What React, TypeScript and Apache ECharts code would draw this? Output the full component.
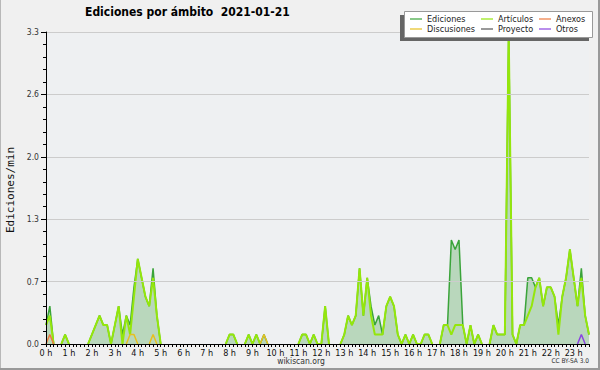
import { useEffect, useRef } from "react";
import * as echarts from "echarts";

const F = "'DejaVu Sans Condensed', 'DejaVu Sans', sans-serif";

const hourLabels = [
  "0 h", "1 h", "2 h", "3 h", "4 h", "5 h", "6 h", "7 h", "8 h", "9 h", "10 h", "11 h",
  "12 h", "13 h", "14 h", "15 h", "16 h", "17 h", "18 h", "19 h", "20 h", "21 h", "22 h", "23 h",
];
const minuteLabels = ["00", "10", "20", "30", "40", "50"];
// 10-minute slots shown on the axis (0:00 .. 23:40)
const slots = hourLabels
  .flatMap((h, hi) => minuteLabels.map((m) => `${hi}:${m}`))
  .slice(0, 143);

const yMax = 3.3;
const yStep = 0.66;

// Ediciones (total), edits per minute per 10-minute slot
const ediciones = [
  0.2, 0.4, 0, 0, 0, 0.1, 0, 0, 0, 0, 0, 0,
  0.1, 0.2, 0.3, 0.2, 0.2, 0, 0.2, 0.4, 0.1, 0.3, 0.2, 0.6,
  0.9, 0.7, 0.5, 0.4, 0.8, 0.3, 0, 0, 0, 0, 0, 0,
  0, 0, 0, 0, 0, 0, 0, 0, 0, 0, 0, 0,
  0.1, 0.1, 0, 0, 0, 0.1, 0, 0.1, 0, 0.1, 0, 0,
  0, 0, 0, 0, 0, 0, 0, 0.1, 0.1, 0, 0.1, 0,
  0, 0.4, 0, 0, 0, 0, 0.1, 0.3, 0.2, 0.3, 0.8, 0.3,
  0.7, 0.4, 0.2, 0.3, 0.1, 0.4, 0.5, 0.4, 0.1, 0, 0.1, 0,
  0.1, 0, 0, 0.1, 0.1, 0, 0, 0, 0.2, 0.2, 1.1, 1.0,
  1.1, 0.2, 0, 0.2, 0, 0.1, 0, 0, 0, 0.2, 0.1, 0.1,
  0.1, 3.3, 0.1, 0, 0.2, 0.2, 0.7, 0.7, 0.6, 0.7, 0.4, 0.6,
  0.6, 0.5, 0.2, 0.5, 0.7, 1.0, 0.7, 0.4, 0.8, 0.3, 0.1,
];

const articulos = [
  0.2, 0.3, 0, 0, 0, 0.1, 0, 0, 0, 0, 0, 0,
  0.1, 0.2, 0.3, 0.2, 0.2, 0, 0.2, 0.4, 0, 0.3, 0.1, 0.5,
  0.9, 0.7, 0.5, 0.4, 0.7, 0.3, 0, 0, 0, 0, 0, 0,
  0, 0, 0, 0, 0, 0, 0, 0, 0, 0, 0, 0,
  0.1, 0.1, 0, 0, 0, 0.1, 0, 0.1, 0, 0, 0, 0,
  0, 0, 0, 0, 0, 0, 0, 0.1, 0.1, 0, 0.1, 0,
  0, 0.4, 0, 0, 0, 0, 0.1, 0.3, 0.2, 0.3, 0.8, 0.3,
  0.7, 0.3, 0.1, 0.1, 0.1, 0.4, 0.5, 0.4, 0.1, 0, 0.1, 0,
  0.1, 0, 0, 0.1, 0.1, 0, 0, 0, 0.2, 0.2, 0.1, 0.2,
  0.2, 0.2, 0, 0.2, 0, 0.1, 0, 0, 0, 0.2, 0.1, 0.1,
  0.1, 3.3, 0.1, 0, 0.2, 0.2, 0.3, 0.4, 0.6, 0.7, 0.4, 0.6,
  0.6, 0.5, 0.1, 0.5, 0.7, 1.0, 0.7, 0.4, 0.7, 0.3, 0.1,
];

const discusiones = [
  0, 0, 0, 0, 0, 0, 0, 0, 0, 0, 0, 0,
  0, 0, 0, 0, 0, 0, 0, 0, 0, 0, 0.1, 0.1,
  0, 0, 0, 0, 0.1, 0, 0, 0, 0, 0, 0, 0,
  0, 0, 0, 0, 0, 0, 0, 0, 0, 0, 0, 0,
  0, 0, 0, 0, 0, 0, 0, 0, 0, 0.1, 0, 0,
  0, 0, 0, 0, 0, 0, 0, 0, 0, 0, 0, 0,
  0, 0, 0, 0, 0, 0, 0, 0, 0, 0, 0, 0,
  0, 0, 0, 0, 0, 0, 0, 0, 0, 0, 0, 0,
  0, 0, 0, 0, 0, 0, 0, 0, 0, 0, 0, 0,
  0, 0, 0, 0, 0, 0, 0, 0, 0, 0, 0, 0,
  0, 0, 0, 0, 0, 0, 0, 0, 0, 0, 0, 0,
  0, 0, 0, 0, 0, 0, 0, 0, 0, 0, 0,
];

const anexos = [
  0, 0.1, 0, 0, 0, 0, 0, 0, 0, 0, 0, 0,
  0, 0, 0, 0, 0, 0, 0, 0, 0, 0, 0, 0,
  0, 0, 0, 0, 0, 0, 0, 0, 0, 0, 0, 0,
  0, 0, 0, 0, 0, 0, 0, 0, 0, 0, 0, 0,
  0, 0, 0, 0, 0, 0, 0, 0, 0, 0, 0, 0,
  0, 0, 0, 0, 0, 0, 0, 0, 0, 0, 0, 0,
  0, 0, 0, 0, 0, 0, 0, 0, 0, 0, 0, 0,
  0, 0, 0, 0, 0, 0, 0, 0, 0, 0, 0, 0,
  0, 0, 0, 0, 0, 0, 0, 0, 0, 0, 0, 0,
  0, 0, 0, 0, 0, 0, 0, 0, 0, 0, 0, 0,
  0, 0, 0, 0, 0, 0, 0, 0, 0, 0, 0, 0,
  0, 0, 0, 0, 0, 0, 0, 0, 0, 0, 0,
];

const proyecto = [
  0, 0, 0, 0, 0, 0, 0, 0, 0, 0, 0, 0,
  0, 0, 0, 0, 0, 0, 0, 0, 0, 0, 0, 0,
  0, 0, 0, 0, 0, 0, 0, 0, 0, 0, 0, 0,
  0, 0, 0, 0, 0, 0, 0, 0, 0, 0, 0, 0,
  0, 0, 0, 0, 0, 0, 0, 0, 0, 0, 0, 0,
  0, 0, 0, 0, 0, 0, 0, 0, 0, 0, 0, 0,
  0, 0, 0, 0, 0, 0, 0, 0, 0, 0, 0, 0,
  0, 0, 0, 0, 0, 0, 0, 0, 0, 0, 0, 0,
  0, 0, 0, 0, 0, 0, 0, 0, 0, 0, 0, 0,
  0, 0, 0, 0, 0, 0, 0, 0, 0, 0, 0, 0,
  0, 0, 0, 0, 0, 0, 0, 0, 0, 0, 0, 0,
  0, 0, 0, 0, 0, 0, 0, 0, 0, 0, 0,
];

const otros = [
  0, 0, 0, 0, 0, 0, 0, 0, 0, 0, 0, 0,
  0, 0, 0, 0, 0, 0, 0, 0, 0, 0, 0, 0,
  0, 0, 0, 0, 0, 0, 0, 0, 0, 0, 0, 0,
  0, 0, 0, 0, 0, 0, 0, 0, 0, 0, 0, 0,
  0, 0, 0, 0, 0, 0, 0, 0, 0, 0, 0, 0,
  0, 0, 0, 0, 0, 0, 0, 0, 0, 0, 0, 0,
  0, 0, 0, 0, 0, 0, 0, 0, 0, 0, 0, 0,
  0, 0, 0, 0, 0, 0, 0, 0, 0, 0, 0, 0,
  0, 0, 0, 0, 0, 0, 0, 0, 0, 0, 0, 0,
  0, 0, 0, 0, 0, 0, 0, 0, 0, 0, 0, 0,
  0, 0, 0, 0, 0, 0, 0, 0, 0, 0, 0, 0,
  0, 0, 0, 0, 0, 0, 0, 0, 0.1, 0, 0,
];

// hide runs of zeros so no line is drawn along the baseline
const mask = (arr: number[]) =>
  arr.map((v, i) =>
    v > 0 || (arr[i - 1] ?? 0) > 0 || (arr[i + 1] ?? 0) > 0 ? v : null
  );

const lineSeries = (name: string, data: number[], color: string, width: number, z: number, extra: any = {}) => ({
  name,
  type: "line",
  data: mask(data),
  symbol: "none",
  showSymbol: false,
  lineStyle: { color, width },
  itemStyle: { color },
  z,
  ...extra,
});

const legendBase = (data: string[], left: number) => ({
  data: data.map((name) => ({ name, icon: "rect" })),
  orient: "vertical",
  left,
  top: 14,
  padding: 0,
  itemWidth: 12,
  itemHeight: 1.2,
  itemGap: 0,
  selectedMode: false,
  z: 12,
  textStyle: { fontSize: 9, fontFamily: F, color: "#222", lineHeight: 10 },
});

export default function App() {
  const ref = useRef<HTMLDivElement>(null);

  useEffect(() => {
    if (!ref.current) return;
    const chart = echarts.init(ref.current, undefined, { renderer: "svg" });
    chart.setOption({
      animation: false,
      backgroundColor: "#f0f0f0",
      title: {
        text: "Ediciones por ámbito  2021-01-21",
        left: 85,
        top: 6,
        padding: 0,
        textStyle: { fontSize: 12, fontWeight: "bold", fontFamily: F, color: "#000" },
      },
      grid: {
        left: 46,
        right: 11,
        top: 32,
        bottom: 26,
        show: true,
        backgroundColor: "#eef0f2",
        borderWidth: 0,
      },
      xAxis: {
        type: "category",
        data: slots,
        boundaryGap: false,
        z: 5,
        axisLine: { lineStyle: { color: "#000", width: 1 } },
        axisTick: { show: true, interval: 0, length: 3, lineStyle: { color: "#000" } },
        axisLabel: {
          interval: 5,
          margin: 4,
          fontSize: 9,
          fontFamily: F,
          color: "#111",
          formatter: (_v: string, idx: number) => hourLabels[Math.floor(idx / 6)],
        },
        splitLine: { show: false },
      },
      yAxis: {
        type: "value",
        min: 0,
        max: yMax,
        interval: yStep,
        z: 5,
        axisLine: { show: true, lineStyle: { color: "#000" } },
        axisTick: { show: true, length: 5, lineStyle: { color: "#000" } },
        minorTick: { show: true, splitNumber: 5, length: 3, lineStyle: { color: "#000" } },
        axisLabel: {
          formatter: (v: number) => v.toFixed(1),
          margin: 7,
          fontSize: 8.5,
          fontFamily: F,
          color: "#333",
        },
        splitLine: { show: true, lineStyle: { color: "#cccccc", width: 1 } },
      },
      legend: [
        legendBase(["Ediciones", "Discusiones"], 410),
        legendBase(["Artículos", "Proyecto"], 481),
        legendBase(["Anexos", "Otros"], 539),
      ],
      series: [
        lineSeries("Ediciones", ediciones, "#3aa43a", 1.5, 2, {
          areaStyle: { color: "rgba(70,160,70,0.45)" },
        }),
        lineSeries("Artículos", articulos, "#94e60c", 2, 3),
        lineSeries("Discusiones", discusiones, "#e6c020", 1.5, 4),
        lineSeries("Anexos", anexos, "#ee7a40", 1.5, 4),
        lineSeries("Proyecto", proyecto, "#555555", 1.5, 4),
        lineSeries("Otros", otros, "#8a44e0", 1.5, 4),
      ],
      graphic: [
        { type: "rect", z: 10, shape: { x: 400, y: 15, width: 189, height: 26 }, style: { fill: "#666" } },
        {
          type: "rect",
          z: 11,
          shape: { x: 404.5, y: 11.5, width: 188, height: 26 },
          style: { fill: "#ffffff", stroke: "#999", lineWidth: 1 },
        },
        {
          type: "text",
          z: 10,
          x: 10,
          y: 190,
          rotation: Math.PI / 2,
          style: {
            text: "Ediciones/min",
            fontSize: 11,
            fontFamily: "'DejaVu Sans Mono', monospace",
            fill: "#111",
            align: "center",
            verticalAlign: "middle",
          },
        },
        {
          type: "text",
          z: 10,
          x: 301,
          y: 361,
          style: {
            text: "wikiscan.org",
            fontSize: 8.5,
            fontFamily: F,
            fill: "#333",
            align: "center",
            verticalAlign: "middle",
          },
        },
        {
          type: "text",
          z: 10,
          x: 589,
          y: 361,
          style: {
            text: "CC BY-SA 3.0",
            fontSize: 6.5,
            fontFamily: F,
            fill: "#333",
            align: "right",
            verticalAlign: "middle",
          },
        },
        { type: "line", z: 10, shape: { x1: 0.5, y1: 0, x2: 0.5, y2: 370 }, style: { stroke: "#b8b8b8", lineWidth: 1 } },
        { type: "line", z: 10, shape: { x1: 0, y1: 369, x2: 600, y2: 369 }, style: { stroke: "#999", lineWidth: 2 } },
        { type: "line", z: 10, shape: { x1: 599, y1: 0, x2: 599, y2: 370 }, style: { stroke: "#999", lineWidth: 2 } },
      ],
    });
    return () => chart.dispose();
  }, []);

  return (
    <div
      ref={ref}
      style={{ position: "absolute", left: 0, top: 0, width: 600, height: 370 }}
    />
  );
}
